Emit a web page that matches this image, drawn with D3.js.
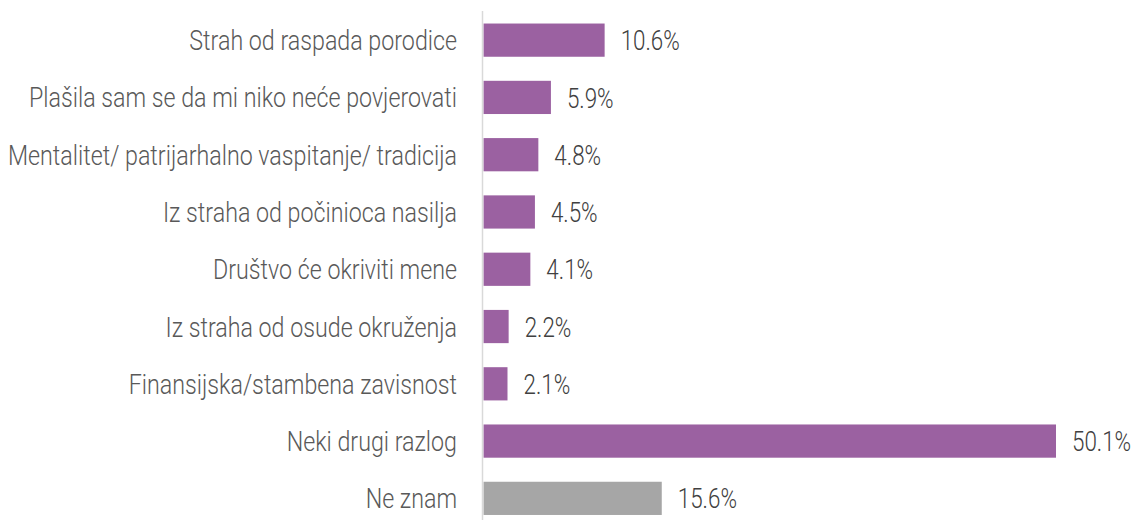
<!DOCTYPE html>
<html><head><meta charset="utf-8">
<script src="https://cdn.jsdelivr.net/npm/d3@7"></script>
<style>body{margin:0;background:#fff}svg{display:block}</style>
</head><body><div id="chart"></div>
<script>
const categories = ["Strah od raspada porodice","Plašila sam se da mi niko neće povjerovati","Mentalitet/ patrijarhalno vaspitanje/ tradicija","Iz straha od počinioca nasilja","Društvo će okriviti mene","Iz straha od osude okruženja","Finansijska/stambena zavisnost","Neki drugi razlog","Ne znam"];
const values = [10.6,5.9,4.8,4.5,4.1,2.2,2.1,50.1,15.6];
const colors = ["#9b61a1","#9b61a1","#9b61a1","#9b61a1","#9b61a1","#9b61a1","#9b61a1","#9b61a1","#a6a6a6"];

const W=1133,H=520;
const svg=d3.select("#chart").append("svg").attr("width",W).attr("height",H);
const x0=483.5;
const x=d3.scaleLinear().domain([0,50.1]).range([x0,1056]);
const y=d3.scaleBand().domain(categories).range([11.5,527]).paddingInner(0.42).paddingOuter(0.21);
const font="Roboto,sans-serif";

svg.selectAll("rect.bar").data(values).enter().append("rect")
 .attr("x",x0).attr("y",(d,i)=>y(categories[i])).attr("width",d=>x(d)-x0)
 .attr("height",y.bandwidth()).attr("fill",(d,i)=>colors[i]);

svg.append("line").attr("x1",482.5).attr("x2",482.5).attr("y1",11).attr("y2",H).attr("stroke","#d9d9d9").attr("stroke-width",1.5);

svg.selectAll("text.cat").data(categories).enter().append("text")
 .attr("transform",d=>`translate(457,${y(d)+y.bandwidth()/2}) scale(0.83,1)`).attr("dy","0.36em")
 .attr("text-anchor","end").attr("font-family",font).attr("font-weight",300).attr("font-size",28).attr("fill","#595959").text(d=>d);

svg.selectAll("text.val").data(values).enter().append("text")
 .attr("transform",(d,i)=>`translate(${x(d)+16},${y(categories[i])+y.bandwidth()/2}) scale(0.8,1)`).attr("dy","0.36em")
 .attr("font-family",font).attr("font-weight",300).attr("font-size",28).attr("fill","#404040").text(d=>d.toFixed(1)+"%");
</script></body></html>
